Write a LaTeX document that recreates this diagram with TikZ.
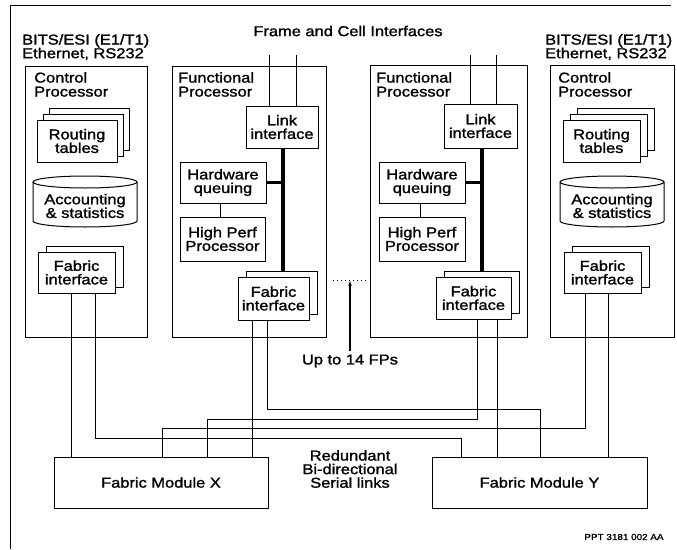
\documentclass[tikz,border=0pt]{standalone}
\usepackage{fontspec}
\setmainfont{Liberation Sans}[FakeStretch=1.15,FakeBold=1.4]
\usetikzlibrary{arrows.meta}
\begin{document}
\begin{tikzpicture}[x=1pt,y=-1pt,
  every node/.style={font=\fontsize{14.3}{13.6}\selectfont, inner sep=0pt},
  box/.style={draw, line width=1pt, fill=white, align=center},
  frameline/.style={line width=0.9pt},
  page/.style={draw, line width=1pt, fill=white},
  wire/.style={line width=1pt},
  bus/.style={line width=3.6pt},
  lbl/.style={align=left, anchor=north west},
  ctr/.style={align=center}]
\useasboundingbox (0,0) rectangle (677,549);

% partial outer frame
\draw[frameline] (671,5) -- (10,5) -- (10,549);

% headings
\node[ctr] (top) at (348,31) {Frame and Cell Interfaces};
\node[lbl] (bitsl) at (22,34) {BITS/ESI (E1/T1)\\Ethernet, RS232};
\node[lbl] (bitsr) at (545,34) {BITS/ESI (E1/T1)\\Ethernet, RS232};

% ---------- left control processor ----------
\node[box, minimum width=122, minimum height=271] (cp1) at (86,201.5) {};
\node[lbl] (cp1lbl) at (34,72) {Control\\[0.4pt]Processor};
\draw[page] (49,108) rectangle ++(80,42);
\draw[page] (43,114) rectangle ++(80,42);
\node[box, minimum width=80, minimum height=42] (cp1rt) at (77,141) {Routing\\tables};
\draw[line width=1pt, fill=white] (33,182) -- (33,221) arc[start angle=180, end angle=360, x radius=52pt, y radius=6pt] -- (137,182);
\draw[line width=1pt] (85,182) ellipse[x radius=52pt, y radius=6pt];
\node[ctr] (cp1acc) at (85,206) {Accounting\\\& statistics};
\draw[page] (46,246) rectangle ++(77,41);
\node[box, minimum width=77, minimum height=41] (cp1fi) at (76.5,272.5) {Fabric\\interface};

% ---------- right control processor ----------
\node[box, minimum width=124, minimum height=272] (cp2) at (612,201) {};
\node[lbl] (cp2lbl) at (558,72) {Control\\[0.4pt]Processor};
\draw[page] (577,108) rectangle ++(77,42);
\draw[page] (570,114) rectangle ++(77,42);
\node[box, minimum width=77, minimum height=42] (cp2rt) at (601.5,141) {Routing\\tables};
\draw[line width=1pt, fill=white] (560,182) -- (560,221) arc[start angle=180, end angle=360, x radius=52pt, y radius=6pt] -- (664,182);
\draw[line width=1pt] (612,182) ellipse[x radius=52pt, y radius=6pt];
\node[ctr] (cp2acc) at (612,206) {Accounting\\\& statistics};
\draw[page] (572,246) rectangle ++(77,41);
\node[box, minimum width=77, minimum height=41] (cp2fi) at (602.5,272.5) {Fabric\\interface};

% ---------- functional processor 1 ----------
\node[box, minimum width=154, minimum height=271] (fp1) at (249,201.5) {};
\node[lbl] (fp1lbl) at (178,72) {Functional\\[0.4pt]Processor};
\node[box, minimum width=72, minimum height=42] (fp1link) at (282,127) {Link\\interface};
\node[box, minimum width=86, minimum height=41] (fp1hwq) at (223,182.5) {Hardware\\queuing};
\node[box, minimum width=85, minimum height=44] (fp1hpp) at (222.5,239) {High Perf\\Processor};
\node[page, minimum width=71, minimum height=43] (fp1fib) at (281.5,292.5) {};
\node[box, minimum width=71, minimum height=43] (fp1fi) at (273.5,298.5) {Fabric\\interface};
\draw[bus] (283,0 |- fp1link.south) -- (283,0 |- fp1fib.north);
\draw[bus] (fp1hwq.east) -- (283,0 |- fp1hwq.east);
\draw[wire] (220,0 |- fp1hwq.south) -- (220,0 |- fp1hpp.north);
\draw[wire] (269,55) -- (269,0 |- fp1link.north);
\draw[wire] (296,55) -- (296,0 |- fp1link.north);

% ---------- functional processor 2 ----------
\node[box, minimum width=157, minimum height=272] (fp2) at (448.5,201) {};
\node[lbl] (fp2lbl) at (376,72) {Functional\\[0.4pt]Processor};
\node[box, minimum width=73, minimum height=44] (fp2link) at (480.5,126) {Link\\interface};
\node[box, minimum width=86, minimum height=41] (fp2hwq) at (422,182.5) {Hardware\\queuing};
\node[box, minimum width=86, minimum height=44] (fp2hpp) at (422,239) {High Perf\\Processor};
\node[page, minimum width=75, minimum height=42] (fp2fib) at (481.5,292) {};
\node[box, minimum width=75, minimum height=42] (fp2fi) at (473.5,298) {Fabric\\interface};
\draw[bus] (482,0 |- fp2link.south) -- (482,0 |- fp2fib.north);
\draw[bus] (fp2hwq.east) -- (482,0 |- fp2hwq.east);
\draw[wire] (420,0 |- fp2hwq.south) -- (420,0 |- fp2hpp.north);
\draw[wire] (470,55) -- (470,0 |- fp2link.north);
\draw[wire] (496,55) -- (496,0 |- fp2link.north);

% more FPs in between
\draw[line width=1pt, dash pattern=on 1pt off 3pt] (333,280) -- (367,280);
\node[ctr] (upto) at (350,361) {Up to 14 FPs};
\draw[line width=1.2pt, -{Stealth[length=5pt,width=3.5pt]}] (upto.north) ++(0,-3) -- (350,281);

% ---------- fabric modules ----------
\node[box, minimum width=214, minimum height=51] (fmx) at (161,482.5) {Fabric Module X};
\node[box, minimum width=215, minimum height=51] (fmy) at (539.5,482.5) {Fabric Module Y};
\node[ctr] (links) at (350,469) {Redundant\\Bi-directional\\Serial links};

% serial links
\draw[wire] (71,0 |- cp1fi.south) -- (71,0 |- fmx.north);
\draw[wire] (95,0 |- cp1fi.south) |- (461,438) -- (461,0 |- fmy.north);
\draw[wire] (252,0 |- fp1fi.south) -- (252,0 |- fmx.north);
\draw[wire] (267,0 |- fp1fi.south) |- (540,409) -- (540,0 |- fmy.north);
\draw[wire] (477,0 |- fp2fi.south) |- (207,419) -- (207,0 |- fmx.north);
\draw[wire] (497,0 |- fp2fi.south) -- (497,0 |- fmy.north);
\draw[wire] (585,0 |- cp2fi.south) |- (162,428) -- (162,0 |- fmx.north);
\draw[wire] (608,0 |- cp2fi.south) -- (608,0 |- fmy.north);

\node[font=\fontsize{8.6}{9}\selectfont] (ref) at (624,537) {PPT 3181 002 AA};
\end{tikzpicture}
\end{document}
